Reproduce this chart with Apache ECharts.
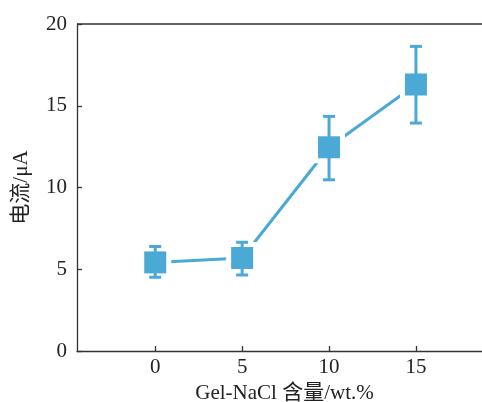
<!DOCTYPE html>
<html>
<head>
<meta charset="utf-8">
<script src="https://cdn.jsdelivr.net/npm/echarts@6/dist/echarts.min.js"></script>
<style>
  html, body { margin: 0; padding: 0; background: #fff; }
  #chart { width: 482px; height: 402px; }
</style>
</head>
<body>
<div id="chart"></div>
<script>
const contents = [0, 5, 10, 15]
const current = [5.42, 5.69, 12.46, 16.3]
const errLow = [4.51, 4.65, 10.47, 13.94]
const errHigh = [6.39, 6.65, 14.35, 18.63]
const xTicks = [0, 5, 10, 15]

const blue = '#4BA9D6'
const font = '"Liberation Serif", "Noto Sans CJK SC", serif'

const points = contents.map((x, i) => [x, current[i], errLow[i], errHigh[i]])

const chart = echarts.init(document.getElementById('chart'))
chart.setOption({
  animation: false,
  grid: { left: 77, right: 0, top: 24, bottom: 51, outerBoundsMode: 'none', containLabel: false },
  xAxis: {
    type: 'value',
    min: -4.5,
    max: 18.8,
    name: 'Gel-NaCl 含量/wt.%',
    nameLocation: 'middle',
    nameGap: 29,
    nameTextStyle: { fontFamily: font, fontSize: 21, color: '#222', padding: [0, 0, 0, 10] },
    axisLine: { show: true, onZero: false, lineStyle: { color: '#333', width: 1.3 } },
    axisTick: { show: true, inside: true, length: 5, customValues: xTicks, lineStyle: { color: '#333', width: 1.3 } },
    axisLabel: { customValues: xTicks, fontFamily: font, fontSize: 21, color: '#222', margin: 6 },
    splitLine: { show: false }
  },
  yAxis: {
    type: 'value',
    min: 0,
    max: 20,
    interval: 5,
    name: '电流/μA',
    nameLocation: 'middle',
    nameGap: 45,
    nameTextStyle: { fontFamily: font, fontSize: 21, color: '#222' },
    axisLine: { show: true, onZero: false, lineStyle: { color: '#333', width: 1.3 } },
    axisTick: { show: true, inside: true, length: 5, lineStyle: { color: '#333', width: 1.3 } },
    axisLabel: { fontFamily: font, fontSize: 21, color: '#222', margin: 10 },
    splitLine: { show: false }
  },
  series: [
    {
      type: 'line',
      data: points.map(p => [p[0], p[1]]),
      showSymbol: false,
      lineStyle: { color: blue, width: 3 },
      z: 2
    },
    {
      type: 'custom',
      data: points,
      z: 3,
      renderItem(params, api) {
        const c = api.coord([api.value(0), api.value(1)])
        const lo = api.coord([api.value(0), api.value(2)])
        const hi = api.coord([api.value(0), api.value(3)])
        const s = 22
        const gap = 5
        const cap = 6
        const st = { stroke: blue, lineWidth: 3 }
        return {
          type: 'group',
          children: [
            { type: 'rect', shape: { x: c[0] - s / 2 - gap, y: c[1] - s / 2 - gap, width: s + 2 * gap, height: s + 2 * gap }, style: { fill: '#fff' } },
            { type: 'line', shape: { x1: c[0], y1: lo[1], x2: c[0], y2: hi[1] }, style: st },
            { type: 'line', shape: { x1: c[0] - cap, y1: lo[1], x2: c[0] + cap, y2: lo[1] }, style: st },
            { type: 'line', shape: { x1: c[0] - cap, y1: hi[1], x2: c[0] + cap, y2: hi[1] }, style: st },
            { type: 'rect', shape: { x: c[0] - s / 2, y: c[1] - s / 2, width: s, height: s }, style: { fill: blue } }
          ]
        }
      }
    }
  ],
  graphic: [
    { type: 'line', shape: { x1: 77, y1: 24, x2: 482, y2: 24 }, style: { stroke: '#333', lineWidth: 1.3 } }
  ]
})
</script>
</body>
</html>
